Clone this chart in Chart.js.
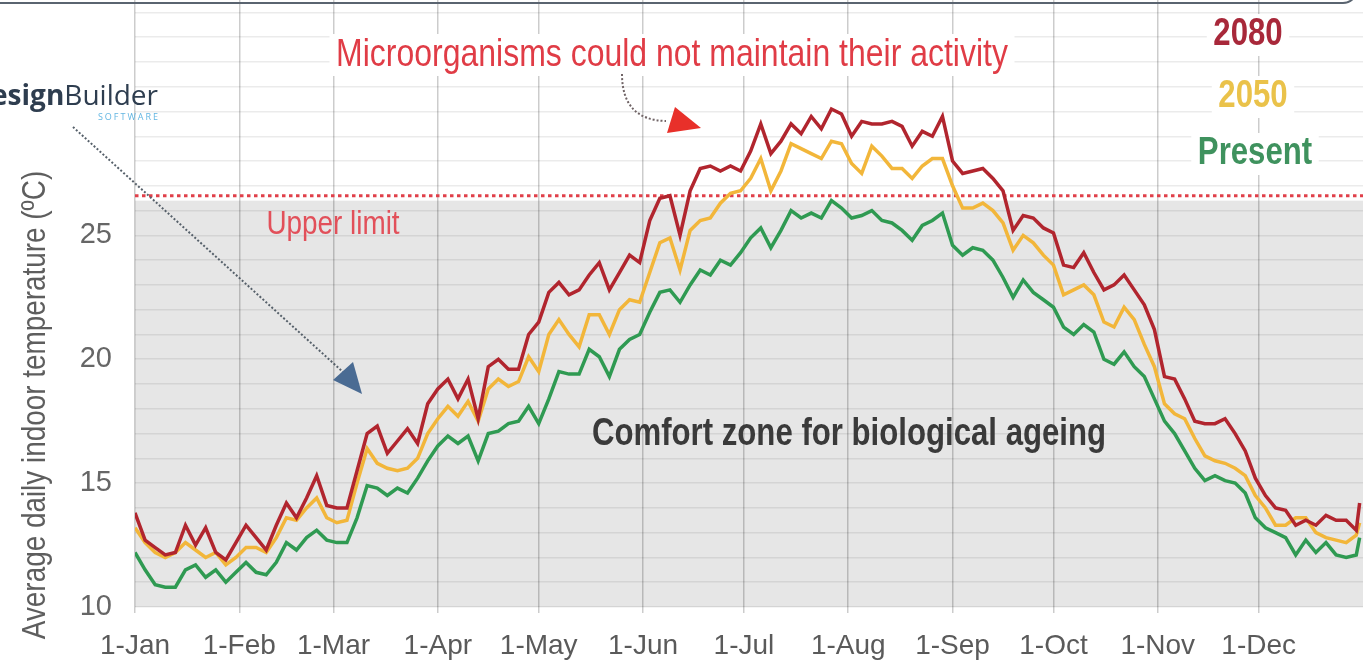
<!DOCTYPE html>
<html lang="en">
<head>
    <meta charset="UTF-8">
    <title>Average daily indoor temperature</title>
    <script src="https://cdn.jsdelivr.net/npm/chart.js@4"></script>
    <style>
        body {
            margin: 0;
            background-color: #fff;
        }
        .chart-container {
            position: relative;
            width: 1363px;
            height: 665px;
        }
    </style>
</head>
<body>
    <div class="chart-container">
        <canvas id="tempChart"></canvas>
    </div>

    <script>
        // Day of year (0 = 1 Jan), read every 3 days
        const days = [0,3,6,9,12,15,18,21,24,27,30,33,36,39,42,45,48,51,54,57,
            60,63,66,69,72,75,78,81,84,87,90,93,96,99,102,105,108,111,114,117,
            120,123,126,129,132,135,138,141,144,147,150,153,156,159,162,165,168,171,174,177,
            180,183,186,189,192,195,198,201,204,207,210,213,216,219,222,225,228,231,234,237,
            240,243,246,249,252,255,258,261,264,267,270,273,276,279,282,285,288,291,294,297,
            300,303,306,309,312,315,318,321,324,327,330,333,336,339,342,345,348,351,354,357,
            360,363,364];

        const temp2080 = [13.8,12.7,12.4,12.1,12.2,13.3,12.5,13.2,12.2,11.9,
            12.6,13.3,12.8,12.3,13.3,14.2,13.6,14.4,15.3,14.1,
            14.0,14.0,15.5,17.0,17.3,16.2,16.7,17.2,16.6,18.2,
            18.8,19.2,18.4,19.2,17.6,19.7,20.0,19.6,19.6,21.0,
            21.5,22.7,23.1,22.6,22.8,23.4,23.9,22.8,23.5,24.2,
            23.9,25.6,26.5,26.6,25.0,26.8,27.7,27.8,27.6,27.8,
            27.6,28.4,29.5,28.3,28.8,29.5,29.1,29.8,29.3,30.1,
            29.9,29.0,29.6,29.5,29.5,29.6,29.4,28.6,29.2,29.0,
            29.8,28.0,27.5,27.6,27.7,27.3,26.8,25.2,25.8,25.7,
            25.3,25.1,23.8,23.7,24.3,23.5,22.8,23.0,23.4,22.8,
            22.2,21.2,19.3,19.2,18.4,17.5,17.4,17.4,17.6,17.0,
            16.3,15.2,14.5,14.0,13.9,13.3,13.5,13.3,13.7,13.5,
            13.5,13.1,14.2];

        const temp2050 = [13.2,12.6,12.2,12.0,12.2,12.6,12.3,12.0,12.2,11.7,
            12.0,12.4,12.4,12.2,12.8,13.6,13.5,14.0,14.4,13.6,
            13.4,13.5,15.0,16.4,15.8,15.6,15.5,15.6,16.0,17.0,
            17.6,18.1,17.7,18.3,17.5,18.8,19.2,18.9,19.1,20.1,
            19.5,21.0,21.6,21.0,20.5,21.8,21.8,21.0,22.0,22.4,
            22.3,23.5,24.7,24.9,23.6,25.2,25.6,25.7,26.3,26.7,
            26.8,27.3,28.1,26.8,27.6,28.7,28.5,28.3,28.1,28.8,
            28.7,27.9,27.5,28.6,28.2,27.7,27.7,27.3,27.8,28.1,
            28.1,27.0,26.1,26.1,26.3,26.0,25.5,24.4,25.0,24.7,
            24.2,23.8,22.6,22.8,23.0,22.6,21.5,21.3,22.1,21.6,
            20.6,19.7,18.2,17.8,17.6,16.8,16.1,15.9,15.8,15.6,
            15.3,14.5,14.0,13.3,13.3,13.6,13.6,13.0,12.8,12.7,
            12.6,12.9,13.4];

        const tempPresent = [12.2,11.5,10.9,10.8,10.8,11.5,11.7,11.2,11.5,11.0,
            11.4,11.8,11.4,11.3,11.8,12.6,12.3,12.8,13.1,12.7,
            12.6,12.6,13.6,14.9,14.8,14.5,14.8,14.6,15.2,15.9,
            16.5,16.9,16.6,16.9,15.9,17.0,17.1,17.4,17.5,18.1,
            17.4,18.4,19.5,19.4,19.4,20.4,20.1,19.3,20.4,20.8,
            21.0,21.9,22.7,22.8,22.3,23.0,23.6,23.4,24.0,23.8,
            24.3,24.9,25.3,24.5,25.2,26.0,25.7,25.9,25.7,26.4,
            26.1,25.7,25.8,26.0,25.6,25.5,25.2,24.8,25.4,25.6,
            25.9,24.6,24.2,24.5,24.4,24.0,23.3,22.5,23.2,22.7,
            22.4,22.1,21.3,21.0,21.4,21.1,20.0,19.8,20.3,19.7,
            19.3,18.4,17.5,17.0,16.3,15.6,15.1,15.3,15.1,15.0,
            14.6,13.6,13.2,13.0,12.8,12.1,12.7,12.2,12.6,12.1,
            12.0,12.1,12.8];

        const monthStarts = [0,31,59,90,120,151,181,212,243,273,304,334];
        const monthLabels = ['1-Jan','1-Feb','1-Mar','1-Apr','1-May','1-Jun',
            '1-Jul','1-Aug','1-Sep','1-Oct','1-Nov','1-Dec'];
        const yGrid = [10,11,12,13,14,15,16,17,18,19,20,21,22,23,24,25,26,27,28,29,30,31,32,33,34];
        const yTickLabels = [10, 15, 20, 25];

        const upperLimit = 26.6;   // dotted red line
        const comfortTop = 26.4;   // top of grey comfort band

        const SANS = "'Liberation Sans', Arial, sans-serif";

        // condensed text (the original uses a narrow face)
        function label(ctx, text, x, y, font, color, bg) {
            ctx.save();
            ctx.translate(x, y);
            ctx.scale(0.82, 1);
            ctx.font = font + ' ' + SANS;
            ctx.textAlign = 'center';
            ctx.textBaseline = 'middle';
            if (bg) {
                const w = ctx.measureText(text).width;
                ctx.fillStyle = '#fff';
                ctx.fillRect(-w / 2 - 8, -21, w + 16, 42);
            }
            ctx.fillStyle = color;
            ctx.fillText(text, 0, 0);
            ctx.restore();
        }

        const decor = {
            id: 'decor',
            beforeDraw(chart) {
                const { ctx, chartArea: a, scales: { y } } = chart;
                ctx.save();
                ctx.fillStyle = '#fff';
                ctx.fillRect(0, 0, chart.width, chart.height);
                const top = y.getPixelForValue(comfortTop);
                ctx.fillStyle = '#e6e6e6';
                ctx.fillRect(a.left, top, a.right - a.left, a.bottom - top);
                ctx.restore();
            },
            beforeDatasetsDraw(chart) {
                const { ctx, chartArea: a, scales: { y } } = chart;
                const py = y.getPixelForValue(upperLimit);
                ctx.save();
                ctx.strokeStyle = '#e0404a';
                ctx.lineWidth = 3;
                ctx.setLineDash([3.5, 3.5]);
                ctx.beginPath();
                ctx.moveTo(a.left, py);
                ctx.lineTo(a.right, py);
                ctx.stroke();
                ctx.restore();
            },
            afterDraw(chart) {
                const ctx = chart.ctx;
                ctx.save();

                // bottom of the caption box above the chart
                ctx.strokeStyle = '#5a6470';
                ctx.lineWidth = 2;
                ctx.beginPath();
                ctx.roundRect(-20, -40, 1377, 43, 14);
                ctx.stroke();

                // y axis title
                ctx.save();
                ctx.translate(36, 405);
                ctx.rotate(-Math.PI / 2);
                label(ctx, 'Average daily indoor temperature (ºC)', 0, 0, '34px', '#5e5e5e');
                ctx.restore();

                label(ctx, 'Microorganisms could not maintain their activity', 672, 55, '39px', '#e03c46', true);
                label(ctx, 'Upper limit', 333, 225, '34px', '#e2505a');
                label(ctx, 'Comfort zone for biological ageing', 849, 435, 'bold 38px', '#3a3a3a');

                label(ctx, '2080', 1248, 35, 'bold 38px', '#a8283a', true);
                label(ctx, '2050', 1253, 97, 'bold 38px', '#eac24a', true);
                label(ctx, 'Present', 1255, 154, 'bold 38px', '#3f925e', true);

                // software logo, cut at the left edge
                ctx.textAlign = 'right';
                ctx.textBaseline = 'alphabetic';
                ctx.fillStyle = '#2e3d4f';
                ctx.font = "28px 'Open Sans', sans-serif";
                ctx.fillText('Builder', 158, 105);
                const bw = ctx.measureText('Builder').width;
                ctx.font = "bold 28px 'Open Sans', sans-serif";
                ctx.fillText('Design', 158 - bw, 105);
                ctx.fillStyle = '#63b6e2';
                ctx.font = "9px 'Open Sans', sans-serif";
                ctx.letterSpacing = '2px';
                ctx.fillText('SOFTWARE', 160, 120);
                ctx.letterSpacing = '0px';

                // dotted arrow from the logo
                ctx.strokeStyle = '#56606a';
                ctx.lineWidth = 2;
                ctx.setLineDash([2, 2]);
                ctx.beginPath();
                ctx.moveTo(73, 127);
                ctx.lineTo(343, 372);
                ctx.stroke();
                ctx.setLineDash([]);
                ctx.fillStyle = '#4a6b93';
                ctx.beginPath();
                ctx.moveTo(333, 380);
                ctx.lineTo(353, 362);
                ctx.lineTo(362, 394);
                ctx.closePath();
                ctx.fill();

                // dotted arrow from the caption
                ctx.strokeStyle = '#706466';
                ctx.setLineDash([2, 2]);
                ctx.beginPath();
                ctx.moveTo(622, 74);
                ctx.quadraticCurveTo(622, 120, 666, 121);
                ctx.stroke();
                ctx.setLineDash([]);
                ctx.fillStyle = '#e8302a';
                ctx.beginPath();
                ctx.moveTo(667, 133);
                ctx.lineTo(675, 107);
                ctx.lineTo(701, 128);
                ctx.closePath();
                ctx.fill();

                ctx.restore();
            }
        };

        const toPoints = values => days.map((d, i) => ({ x: d, y: values[i] }));

        const ctx = document.getElementById('tempChart').getContext('2d');
        new Chart(ctx, {
            type: 'line',
            data: {
                datasets: [
                    { label: '2080', data: toPoints(temp2080), borderColor: '#b1252e', borderWidth: 3.5, pointRadius: 0 },
                    { label: '2050', data: toPoints(temp2050), borderColor: '#f2b63a', borderWidth: 3.5, pointRadius: 0 },
                    { label: 'Present', data: toPoints(tempPresent), borderColor: '#2f9a52', borderWidth: 3.5, pointRadius: 0 }
                ]
            },
            options: {
                responsive: true,
                maintainAspectRatio: false,
                animation: false,
                layout: { padding: 0 },
                plugins: {
                    legend: { display: false },
                    tooltip: { enabled: false }
                },
                scales: {
                    x: {
                        type: 'linear',
                        min: 0,
                        max: 365,
                        afterBuildTicks: s => { s.ticks = monthStarts.map(v => ({ value: v })); },
                        afterFit: s => {
                            s.height = 58;
                            s.paddingLeft = 0;
                            s.paddingRight = 0;
                        },
                        grid: { color: 'rgba(0,0,0,0.2)', lineWidth: 1.5, tickLength: 6 },
                        border: { display: false },
                        ticks: {
                            autoSkip: false,
                            maxRotation: 0,
                            padding: 16,
                            color: '#5a5a5a',
                            font: { family: SANS, size: 28 },
                            callback: v => monthLabels[monthStarts.indexOf(v)]
                        }
                    },
                    y: {
                        min: 10,
                        max: 34.5,
                        afterBuildTicks: s => { s.ticks = yGrid.map(v => ({ value: v })); },
                        afterFit: s => {
                            s.width = 135;
                            s.paddingTop = 0;
                            s.paddingBottom = 0;
                        },
                        grid: { color: 'rgba(0,0,0,0.08)', lineWidth: 1.5, drawTicks: false },
                        border: { display: false },
                        ticks: {
                            autoSkip: false,
                            padding: 23,
                            color: '#666',
                            font: { family: SANS, size: 29 },
                            callback: v => yTickLabels.includes(v) ? v : ''
                        }
                    }
                }
            },
            plugins: [decor]
        });
    </script>
</body>
</html>
